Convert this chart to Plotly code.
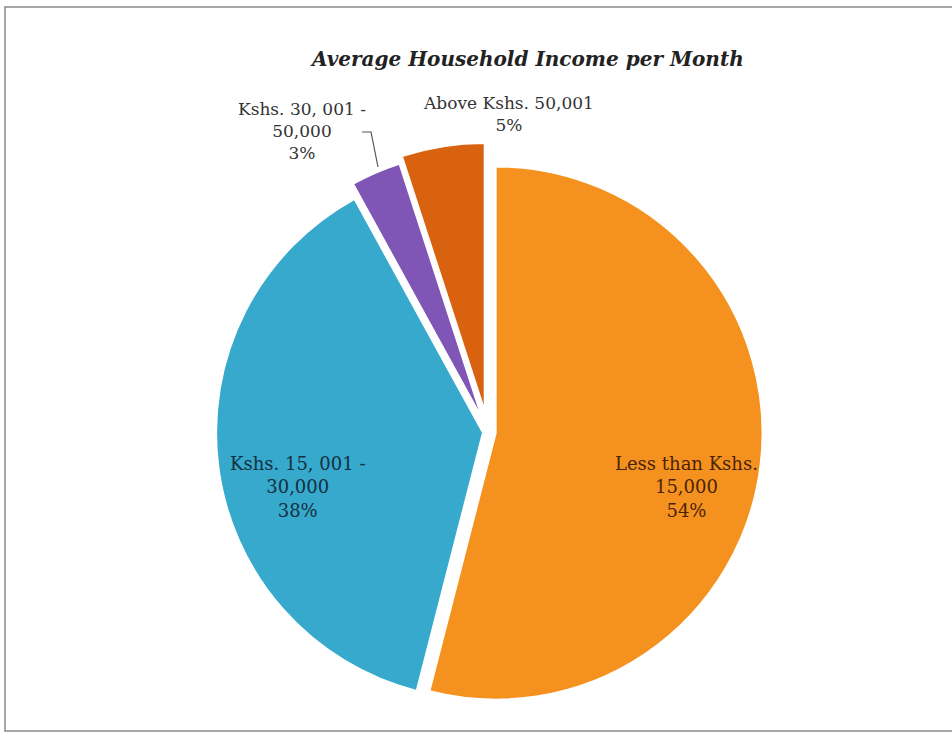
import plotly.graph_objects as go

# Data
categories = ["Less than Kshs.<br>15,000", "Kshs. 15, 001 -<br>30,000",
              "Kshs. 30, 001 -<br>50,000", "Above Kshs. 50,001"]
values = [54, 38, 3, 5]
colors = ["#F5921F", "#36A9CD", "#7F56B6", "#D8620F"]
pulls = [0.03, 0.02, 0.06, 0.085]

W, H = 952, 735
SERIF = "DejaVu Serif, Times New Roman, serif"

fig = go.Figure()
fig.add_trace(go.Pie(
    labels=categories,
    values=values,
    sort=False,
    direction="clockwise",
    rotation=0,
    pull=pulls,
    marker=dict(colors=colors, line=dict(color="white", width=1.5)),
    textinfo="none",
    hoverinfo="label+percent",
    showlegend=False,
    domain=dict(x=[199 / W, 777 / W], y=[1 - 721 / H, 1 - 143 / H]),
))

total = sum(values)
pct = [f"{round(v * 100 / total)}%" for v in values]

# label placements (pixel centres) for each slice
label_pos = [(686, 487), (297, 487), (302, 131), (508, 114)]
label_sizes = [18, 18, 17, 17]
text_colors = ["#4a2408", "#14303e", "#333333", "#333333"]
annotations = []
for cat, p, (px, py), sz, tc in zip(categories, pct, label_pos, label_sizes, text_colors):
    annotations.append(dict(
        x=px / W, y=1 - py / H, xref="paper", yref="paper",
        text=f"{cat}<br>{p}", showarrow=False, align="center",
        xanchor="center", yanchor="middle",
        font=dict(family=SERIF, size=sz, color=tc),
    ))

annotations.append(dict(
    x=527 / W, y=1 - 59 / H, xref="paper", yref="paper",
    text="<b><i>Average Household Income per Month</i></b>", showarrow=False,
    xanchor="center", yanchor="middle",
    font=dict(family=SERIF, size=20, color="#222222"),
))

shapes = [
    dict(type="rect", xref="paper", yref="paper",
         x0=5 / W, x1=1.01, y0=1 - 731 / H, y1=1 - 7 / H,
         line=dict(color="#8a8a8a", width=1.5), fillcolor="rgba(0,0,0,0)"),
    # leader line for the small purple slice
    dict(type="path", xref="paper", yref="paper",
         path=f"M {362 / W},{1 - 132 / H} L {371 / W},{1 - 132 / H} L {378 / W},{1 - 167 / H}",
         line=dict(color="#555555", width=1.2)),
]

fig.update_layout(
    width=W, height=H,
    margin=dict(l=0, r=0, t=0, b=0),
    paper_bgcolor="white",
    plot_bgcolor="white",
    annotations=annotations,
    shapes=shapes,
)

fig.write_html("out.html",
               config={"displayModeBar": False},
               post_script="document.body.style.margin='0';document.body.style.overflow='hidden';")
